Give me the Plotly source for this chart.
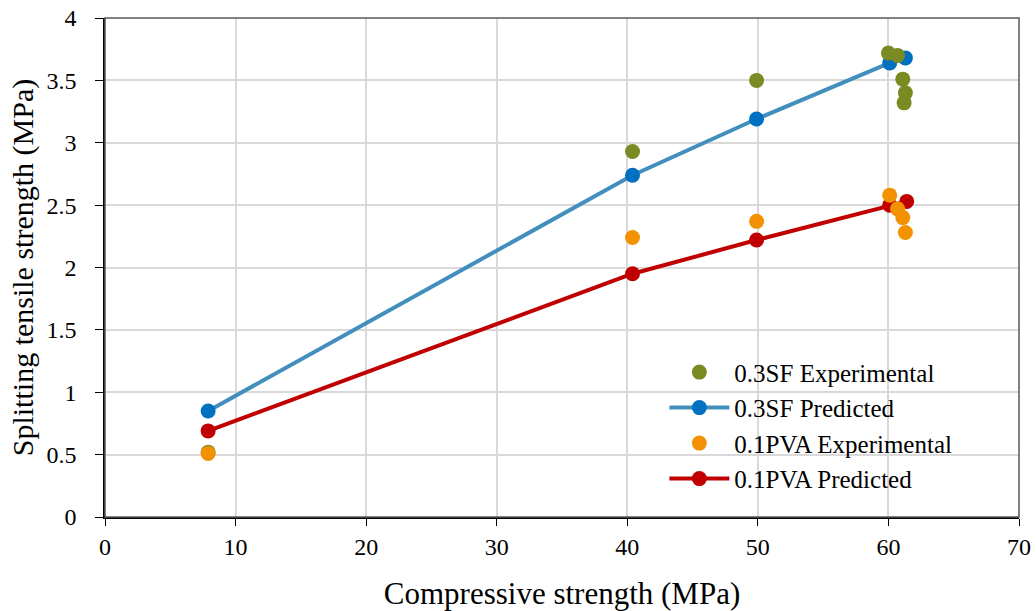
import plotly.graph_objects as go

sf_exp_x = [7.9, 40.4, 49.9, 60.0, 60.7, 61.1, 61.3, 61.2]
sf_exp_y = [0.52, 2.93, 3.50, 3.72, 3.70, 3.51, 3.40, 3.32]

sf_pred_x = [7.9, 40.4, 49.9, 60.1, 61.3]
sf_pred_y = [0.85, 2.74, 3.19, 3.64, 3.68]

pva_exp_x = [7.9, 40.4, 49.9, 60.1, 60.7, 61.1, 61.3]
pva_exp_y = [0.51, 2.24, 2.37, 2.58, 2.47, 2.40, 2.28]

pva_pred_x = [7.9, 40.4, 49.9, 60.1, 61.4]
pva_pred_y = [0.69, 1.95, 2.22, 2.50, 2.53]

x_ticks = [0, 10, 20, 30, 40, 50, 60, 70]
y_ticks = [0, 0.5, 1, 1.5, 2, 2.5, 3, 3.5, 4]

MS = 15
fig = go.Figure()
fig.add_trace(go.Scatter(x=sf_pred_x, y=sf_pred_y, mode="lines+markers", name="0.3SF Predicted",
                         line=dict(color="#428fbd", width=4), legendrank=2,
                         marker=dict(color="#0070c0", size=MS)))
fig.add_trace(go.Scatter(x=pva_pred_x, y=pva_pred_y, mode="lines+markers", name="0.1PVA Predicted",
                         line=dict(color="#c00000", width=4), legendrank=4,
                         marker=dict(color="#c00000", size=MS)))
fig.add_trace(go.Scatter(x=sf_exp_x, y=sf_exp_y, mode="markers", name="0.3SF Experimental",
                         legendrank=1, marker=dict(color="#7b8a23", size=MS)))
fig.add_trace(go.Scatter(x=pva_exp_x, y=pva_exp_y, mode="markers", name="0.1PVA Experimental",
                         legendrank=3, marker=dict(color="#f39200", size=MS)))

fig.update_layout(
    width=1036, height=611,
    margin=dict(l=105, r=17, t=18, b=94, autoexpand=False),
    paper_bgcolor="white", plot_bgcolor="white",
    font=dict(family="Liberation Serif, Times New Roman, serif", size=24, color="black"),
    legend=dict(x=0.612, y=0.336, xanchor="left", yanchor="top", bgcolor="rgba(0,0,0,0)",
                itemwidth=60, font=dict(size=25), tracegroupgap=0),
    showlegend=True,
    shapes=[dict(type="rect", xref="x domain", yref="y domain", x0=0, x1=1, y0=0, y1=1,
                 line=dict(color="#595959", width=1.5), layer="above")],
)
fig.update_xaxes(range=[0, 70], tickvals=x_ticks, showgrid=True, gridcolor="#d9d9d9", gridwidth=1.5,
                 showline=True, linecolor="black", linewidth=1.5, zeroline=False, automargin=False,
                 ticks="outside", tickcolor="black", ticklen=7, tickwidth=1.2,
                 title=dict(text="Compressive strength (MPa)", font=dict(size=31), standoff=24))
fig.update_yaxes(range=[0, 4], tickvals=y_ticks, showgrid=True, gridcolor="#d9d9d9", gridwidth=1.5,
                 showline=True, linecolor="black", linewidth=1.5, zeroline=False, automargin=False,
                 ticks="outside", tickcolor="black", ticklen=8, tickwidth=1.2, ticklabelstandoff=14,
                 title=dict(text="Splitting tensile strength (MPa)", font=dict(size=30), standoff=4))

fig.write_html("out.html")
